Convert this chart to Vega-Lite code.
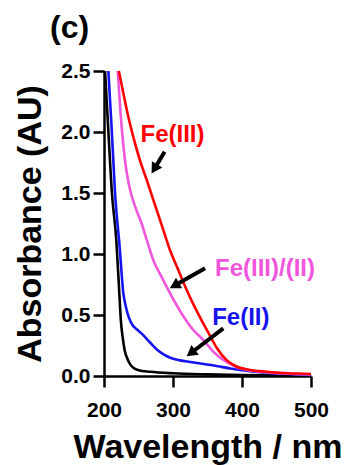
{
  "$schema": "https://vega.github.io/schema/vega-lite/v6.json",
  "width": 207,
  "height": 305,
  "autosize": {"type": "none"},
  "padding": {"left": 104, "top": 71, "right": 41, "bottom": 89},
  "background": "white",
  "config": {
    "view": {"stroke": null},
    "font": "Liberation Sans",
    "axis": {
      "domainColor": "black", "domainWidth": 2.5, "tickColor": "black", "tickWidth": 2.5, "tickSize": 11,
      "labelFont": "Liberation Sans", "labelFontWeight": "bold", "labelFontSize": 21, "labelColor": "black",
      "titleFont": "Liberation Sans", "titleFontWeight": "bold", "titleFontSize": 34, "titleColor": "black",
      "grid": false, "labelOverlap": false, "labelFlush": false
    }
  },
  "title": {"text": "(c)", "anchor": "start", "frame": "group", "dx": -54, "dy": 22, "fontSize": 32, "font": "Liberation Sans", "fontWeight": "bold", "color": "black", "baseline": "alphabetic", "offset": 12},
  "datasets": {
    "curves": [
      {"series": "Blank", "wl": 201.5, "abs": 2.5}, {"series": "Blank", "wl": 206, "abs": 2.04}, {"series": "Blank", "wl": 211.5, "abs": 1.5},
      {"series": "Blank", "wl": 218, "abs": 1.1}, {"series": "Blank", "wl": 222, "abs": 0.7}, {"series": "Blank", "wl": 224.5, "abs": 0.45},
      {"series": "Blank", "wl": 227, "abs": 0.32}, {"series": "Blank", "wl": 230, "abs": 0.21}, {"series": "Blank", "wl": 234, "abs": 0.14},
      {"series": "Blank", "wl": 238, "abs": 0.095}, {"series": "Blank", "wl": 243, "abs": 0.065}, {"series": "Blank", "wl": 250, "abs": 0.048},
      {"series": "Blank", "wl": 267, "abs": 0.035}, {"series": "Blank", "wl": 300, "abs": 0.022}, {"series": "Blank", "wl": 350, "abs": 0.013},
      {"series": "Blank", "wl": 400, "abs": 0.008}, {"series": "Blank", "wl": 450, "abs": 0.005}, {"series": "Blank", "wl": 500, "abs": 0.003},

      {"series": "Fe(II)", "wl": 206.3, "abs": 2.5}, {"series": "Fe(II)", "wl": 211, "abs": 2.04}, {"series": "Fe(II)", "wl": 216, "abs": 1.5},
      {"series": "Fe(II)", "wl": 222.5, "abs": 1.07}, {"series": "Fe(II)", "wl": 228, "abs": 0.68}, {"series": "Fe(II)", "wl": 232, "abs": 0.56},
      {"series": "Fe(II)", "wl": 236, "abs": 0.48}, {"series": "Fe(II)", "wl": 241, "abs": 0.42}, {"series": "Fe(II)", "wl": 247, "abs": 0.385},
      {"series": "Fe(II)", "wl": 255, "abs": 0.345}, {"series": "Fe(II)", "wl": 265, "abs": 0.285}, {"series": "Fe(II)", "wl": 277, "abs": 0.215},
      {"series": "Fe(II)", "wl": 287, "abs": 0.175}, {"series": "Fe(II)", "wl": 296, "abs": 0.15}, {"series": "Fe(II)", "wl": 310, "abs": 0.128},
      {"series": "Fe(II)", "wl": 325, "abs": 0.115}, {"series": "Fe(II)", "wl": 340, "abs": 0.103}, {"series": "Fe(II)", "wl": 355, "abs": 0.09},
      {"series": "Fe(II)", "wl": 370, "abs": 0.075}, {"series": "Fe(II)", "wl": 383, "abs": 0.062}, {"series": "Fe(II)", "wl": 397, "abs": 0.05},
      {"series": "Fe(II)", "wl": 412, "abs": 0.04}, {"series": "Fe(II)", "wl": 435, "abs": 0.028}, {"series": "Fe(II)", "wl": 460, "abs": 0.018},
      {"series": "Fe(II)", "wl": 480, "abs": 0.012}, {"series": "Fe(II)", "wl": 500, "abs": 0.008},

      {"series": "Fe(III)/(II)", "wl": 220, "abs": 2.5}, {"series": "Fe(III)/(II)", "wl": 225.6, "abs": 2.04}, {"series": "Fe(III)/(II)", "wl": 230.4, "abs": 1.77},
      {"series": "Fe(III)/(II)", "wl": 235, "abs": 1.6}, {"series": "Fe(III)/(II)", "wl": 239, "abs": 1.5}, {"series": "Fe(III)/(II)", "wl": 247, "abs": 1.36},
      {"series": "Fe(III)/(II)", "wl": 254.5, "abs": 1.25}, {"series": "Fe(III)/(II)", "wl": 262, "abs": 1.115}, {"series": "Fe(III)/(II)", "wl": 271.4, "abs": 0.95},
      {"series": "Fe(III)/(II)", "wl": 283.6, "abs": 0.81}, {"series": "Fe(III)/(II)", "wl": 295.6, "abs": 0.68}, {"series": "Fe(III)/(II)", "wl": 315, "abs": 0.49},
      {"series": "Fe(III)/(II)", "wl": 329.4, "abs": 0.377}, {"series": "Fe(III)/(II)", "wl": 344, "abs": 0.295}, {"series": "Fe(III)/(II)", "wl": 358.4, "abs": 0.2},
      {"series": "Fe(III)/(II)", "wl": 372.9, "abs": 0.131}, {"series": "Fe(III)/(II)", "wl": 392, "abs": 0.074}, {"series": "Fe(III)/(II)", "wl": 412, "abs": 0.045},
      {"series": "Fe(III)/(II)", "wl": 435, "abs": 0.03}, {"series": "Fe(III)/(II)", "wl": 460, "abs": 0.02}, {"series": "Fe(III)/(II)", "wl": 480, "abs": 0.015},
      {"series": "Fe(III)/(II)", "wl": 500, "abs": 0.012},

      {"series": "Fe(III)", "wl": 221.5, "abs": 2.5}, {"series": "Fe(III)", "wl": 228, "abs": 2.32}, {"series": "Fe(III)", "wl": 235.2, "abs": 2.125},
      {"series": "Fe(III)", "wl": 242.5, "abs": 1.96}, {"series": "Fe(III)", "wl": 252, "abs": 1.77}, {"series": "Fe(III)", "wl": 261.9, "abs": 1.607},
      {"series": "Fe(III)", "wl": 266.7, "abs": 1.525}, {"series": "Fe(III)", "wl": 276.4, "abs": 1.36}, {"series": "Fe(III)", "wl": 285.9, "abs": 1.197},
      {"series": "Fe(III)", "wl": 295.6, "abs": 1.033}, {"series": "Fe(III)", "wl": 307.7, "abs": 0.869}, {"series": "Fe(III)", "wl": 319.9, "abs": 0.705},
      {"series": "Fe(III)", "wl": 331.9, "abs": 0.56}, {"series": "Fe(III)", "wl": 344, "abs": 0.43}, {"series": "Fe(III)", "wl": 353.6, "abs": 0.33},
      {"series": "Fe(III)", "wl": 363.3, "abs": 0.232}, {"series": "Fe(III)", "wl": 377.8, "abs": 0.13}, {"series": "Fe(III)", "wl": 392, "abs": 0.078},
      {"series": "Fe(III)", "wl": 411.6, "abs": 0.049}, {"series": "Fe(III)", "wl": 435.8, "abs": 0.035}, {"series": "Fe(III)", "wl": 460, "abs": 0.025},
      {"series": "Fe(III)", "wl": 480, "abs": 0.02}, {"series": "Fe(III)", "wl": 500, "abs": 0.016}
    ],
    "labels": [
      {"series": "Fe(III)", "text": "Fe(III)", "wl": 299.3, "abs": 1.92},
      {"series": "Fe(III)/(II)", "text": "Fe(III)/(II)", "wl": 433.3, "abs": 0.82},
      {"series": "Fe(II)", "text": "Fe(II)", "wl": 398.3, "abs": 0.418}
    ],
    "arrows": [
      {"name": "a1", "wl": 287.8, "abs": 1.838, "wl2": 274.3, "abs2": 1.71},
      {"name": "a2", "wl": 346.4, "abs": 0.883, "wl2": 304.3, "abs2": 0.748},
      {"name": "a3", "wl": 372.9, "abs": 0.391, "wl2": 328.0, "abs2": 0.197}
    ]
  },
  "layer": [
    {
      "data": {"name": "curves"},
      "mark": {"type": "line", "strokeWidth": 2.6, "interpolate": "monotone"},
      "encoding": {
        "x": {"field": "wl", "type": "quantitative", "scale": {"domain": [200, 500], "nice": false, "zero": false},
              "axis": {"values": [200, 300, 400, 500], "title": "Wavelength / nm", "labelPadding": 12, "titlePadding": 10}},
        "y": {"field": "abs", "type": "quantitative", "scale": {"domain": [0, 2.5], "nice": false},
              "axis": {"values": [0, 0.5, 1, 1.5, 2, 2.5], "format": ".1f", "title": "Absorbance (AU)", "labelPadding": 3, "titlePadding": 13}},
        "color": {"field": "series", "type": "nominal", "legend": null,
                  "scale": {"domain": ["Blank", "Fe(II)", "Fe(III)/(II)", "Fe(III)"], "range": ["#000000", "#1414f0", "#f055dc", "#ff0000"]}},
        "order": {"field": "wl", "type": "quantitative"}
      }
    },
    {
      "data": {"name": "labels"},
      "mark": {"type": "text", "align": "center", "baseline": "alphabetic", "fontSize": 24, "fontWeight": "bold", "font": "Liberation Sans"},
      "encoding": {
        "x": {"field": "wl", "type": "quantitative"},
        "y": {"field": "abs", "type": "quantitative"},
        "text": {"field": "text"},
        "color": {"field": "series", "type": "nominal", "legend": null}
      }
    },
    {
      "data": {"name": "arrows"},
      "mark": {"type": "rule", "strokeWidth": 4, "color": "black"},
      "encoding": {
        "x": {"field": "wl", "type": "quantitative"},
        "y": {"field": "abs", "type": "quantitative"},
        "x2": {"field": "wl2"},
        "y2": {"field": "abs2"}
      }
    },
    {
      "data": {"name": "arrows"},
      "transform": [{"filter": "datum.name === 'a1'"}],
      "mark": {"type": "point", "shape": "triangle", "filled": true, "color": "black", "opacity": 1, "size": 150, "angle": 211.5},
      "encoding": {"x": {"field": "wl2", "type": "quantitative"}, "y": {"field": "abs2", "type": "quantitative"}}
    },
    {
      "data": {"name": "arrows"},
      "transform": [{"filter": "datum.name === 'a2'"}],
      "mark": {"type": "point", "shape": "triangle", "filled": true, "color": "black", "opacity": 1, "size": 150, "angle": 240.3},
      "encoding": {"x": {"field": "wl2", "type": "quantitative"}, "y": {"field": "abs2", "type": "quantitative"}}
    },
    {
      "data": {"name": "arrows"},
      "transform": [{"filter": "datum.name === 'a3'"}],
      "mark": {"type": "point", "shape": "triangle", "filled": true, "color": "black", "opacity": 1, "size": 150, "angle": 232.7},
      "encoding": {"x": {"field": "wl2", "type": "quantitative"}, "y": {"field": "abs2", "type": "quantitative"}}
    }
  ]
}
